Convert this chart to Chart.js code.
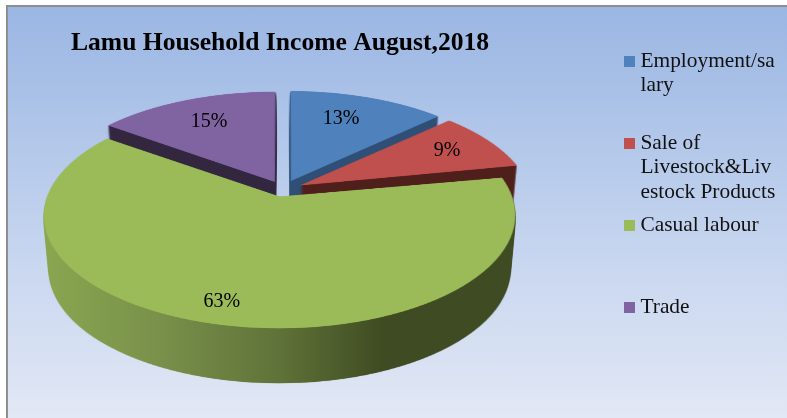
<!DOCTYPE html>
<html><head><meta charset="utf-8">
<script src="https://cdn.jsdelivr.net/npm/chart.js@4"></script>
<style>
html,body{margin:0;padding:0;background:#fff;overflow:hidden}
#bg{position:absolute;left:6px;top:5px;width:781px;height:413px;border-left:2px solid #8e8e8e;border-top:2px solid #8e8e8e;box-sizing:border-box;
background:linear-gradient(to bottom,#9ab6e3 0%,#c3d3ee 55%,#e2e8f5 100%)}
#wrap{position:absolute;left:0;top:0;width:787px;height:418px}
</style></head><body>
<div id="bg"></div>
<div id="wrap"><canvas id="c" width="787" height="418"></canvas></div>
<script>
const titleText = 'Lamu Household Income August,2018';
const categories = ['Employment/salary','Sale of Livestock&Livestock Products','Casual labour','Trade'];
const values = [13,9,63,15];
const legendLines = [['Employment/sa','lary',''],['Sale of','Livestock&Liv','estock Products'],['Casual labour','',''],['Trade','','']];
const faceColors = ['#4f81bd','#c0504d','#9bbb59','#8064a2'];
const wallColors = ['#2f4f76','#4f1f1c','#3f4b22','#33263f'];
const explode = [54,52,43,49];
const labelRadius = [0.70,0.77,0.855,0.71];
const labelTurn = [-2.6,0,1.8,0];
const paintOrder = [3,0,1,2];

// projection of the flat pie onto the tilted view
const cx=283,y0=189.5,Rx=230,B=107.5,p=0.165,depth=55,taper=0.022,S=3,M=1.3;
const W=787,H=418;
function newCanvas(w,h){const c=document.createElement('canvas');c.width=w;c.height=h;return c;}
function project(u,v){const w=1/(1-p*v);return {x:cx+Rx*u*w,y:y0+B*v*w};}
// radius the library really paints for an exploded arc
function paintedRadius(el){
  const o=el.options.offset/4;
  return el.outerRadius+o*(1-Math.sin(Math.min(Math.PI,el.circumference)));
}
function warp(src,R){
  const out=newCanvas(W,H),o=out.getContext('2d');o.imageSmoothingQuality='high';
  const size=2*M*R*S;
  for(let Y=0;Y<H;Y++){
    const a=Y-y0,b=Y+1-y0;
    const va=a/(B+p*a),vb=b/(B+p*b);
    if(vb<-M||va>M) continue;
    const v=(va+vb)/2,w=1/(1-p*v);
    o.drawImage(src,0,(M+va)*R*S,size,(vb-va)*R*S,cx-M*Rx*w,Y,2*M*Rx*w,1);
  }
  return out;
}
const pie3d={
  id:'pie3d',
  beforeDatasetsDraw(chart){
    const ctx=chart.ctx,meta=chart.getDatasetMeta(0);
    paintOrder.forEach(i=>{
      const el=meta.data[i],R=paintedRadius(el);
      const size=Math.ceil(2*M*R*S),off=newCanvas(size,size),c=off.getContext('2d');
      c.scale(S,S);c.translate(M*R-el.x,M*R-el.y);
      el.draw(c);
      const face=warp(off,R);
      const wall=newCanvas(W,H),g=wall.getContext('2d');
      for(let t=depth;t>=1;t--){
        const k=1-taper*t/depth;
        g.setTransform(k,0,0,1,cx*(1-k),t);
        g.drawImage(face,0,0);
      }
      g.setTransform(1,0,0,1,0,0);
      g.globalCompositeOperation='source-in';
      if(i===2){
        const gr=g.createLinearGradient(45,0,515,0);
        gr.addColorStop(0,'#8aa650');gr.addColorStop(0.25,'#78904a');gr.addColorStop(0.5,'#5f7238');gr.addColorStop(0.72,'#3f4b22');gr.addColorStop(1,'#3f4b22');
        g.fillStyle=gr;
      } else g.fillStyle=wallColors[i];
      g.fillRect(0,0,W,H);
      ctx.drawImage(wall,0,0);
      ctx.drawImage(face,0,0);
    });
    // percent labels
    ctx.save();
    ctx.font='20px "Liberation Serif"';ctx.fillStyle='#000';ctx.textAlign='center';ctx.textBaseline='middle';
    meta.data.forEach((el,i)=>{
      const R=paintedRadius(el),mid=(el.startAngle+el.endAngle)/2,off=el.options.offset/4/R;
      const turn=mid+labelTurn[i]*Math.PI/180;
      const u=Math.cos(mid)*off+Math.cos(turn)*labelRadius[i],v=Math.sin(mid)*off+Math.sin(turn)*labelRadius[i];
      const q=project(u,v);
      ctx.fillText(values[i]+'%',q.x,q.y);
    });
    ctx.restore();
    return false;
  }
};
function swatch(color){const c=newCanvas(11,11),x=c.getContext('2d');x.fillStyle=color;x.fillRect(0,0,11,11);return c;}
new Chart(document.getElementById('c'),{
  type:'pie',
  data:{labels:categories,datasets:[{data:values,backgroundColor:faceColors,borderWidth:0,offset:explode}]},
  plugins:[pie3d],
  options:{
    responsive:false,animation:false,
    layout:{padding:{left:71,right:1.7,top:0,bottom:0}},
    plugins:{
      tooltip:{enabled:false},
      title:{display:true,text:titleText,align:'start',fullSize:false,color:'#000',
        font:{family:'"Liberation Serif"',size:25.6,weight:'bold',lineHeight:1},padding:{top:31,bottom:4}},
      legend:{display:true,position:'right',align:'start',fullSize:true,
        title:{display:true,text:' ',font:{size:1,lineHeight:1},padding:{top:20.5,bottom:20.5}},
        labels:{color:'#111',font:{family:'"Liberation Serif"',size:21.4,lineHeight:1.145},
          usePointStyle:true,pointStyleWidth:0.01,boxHeight:11,padding:8.5,
          generateLabels(){return legendLines.map((t,i)=>({text:t,fontColor:'#111',fillStyle:faceColors[i],strokeStyle:faceColors[i],lineWidth:0,pointStyle:swatch(faceColors[i]),hidden:false,index:i}));}
        }
      }
    }
  }
});
</script>
</body></html>
